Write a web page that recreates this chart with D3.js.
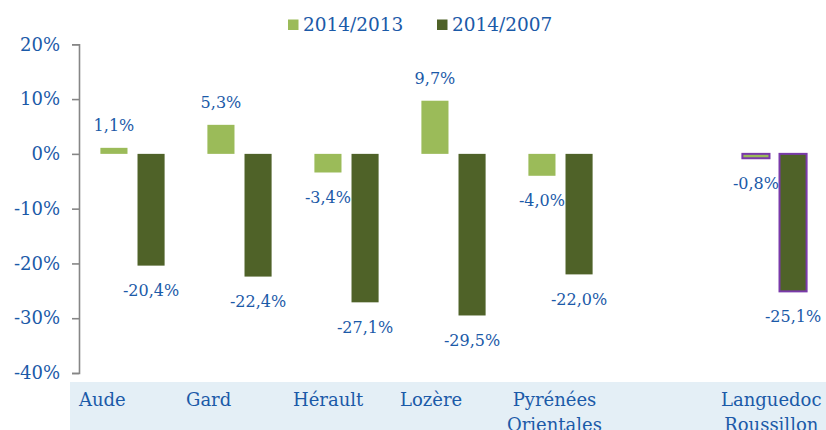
<!DOCTYPE html>
<html>
<head>
<meta charset="utf-8">
<script src="https://cdn.jsdelivr.net/npm/d3@7"></script>
<style>
  body { margin: 0; background: #fff; }
  svg text { font-family: "DejaVu Serif", Georgia, serif; fill: #1b5aa8; }
  .axis path, .axis line { stroke: #868686; stroke-width: 1.6; }
</style>
</head>
<body>
<script>
var width = 826,
    height = 430;

// data
var categories = ["Aude", "Gard", "Hérault", "Lozère", "Pyrénées Orientales", "", "Languedoc Roussillon"];
var series = ["2014/2013", "2014/2007"];
var v2013 = [1.1, 5.3, -3.4, 9.7, -4.0, null, -0.8];
var v2007 = [-20.4, -22.4, -27.1, -29.5, -22.0, null, -25.1];
var yTicks = [-40, -30, -20, -10, 0, 10, 20];
var colors = ["#9bbb59", "#4f6228"];
var totalCategory = "Languedoc Roussillon";

// build rows (the blank category is only a gap)
var rows = categories.map(function(c, i) {
  return { key: "k" + i, name: c, values: [v2013[i], v2007[i]] };
});

var svg = d3.select("body").append("svg")
    .attr("width", width)
    .attr("height", height);

var x = d3.scaleBand()
    .domain(rows.map(d => d.key))
    .range([79, 828]);

var xs = d3.scaleBand()
    .domain(series)
    .range([x.bandwidth() * 0.2, x.bandwidth() * 0.8])
    .paddingInner(0.27);

var y = d3.scaleLinear()
    .domain([-40, 20])
    .range([373, 44.3]);

// category strip
svg.append("rect")
    .attr("x", 70)
    .attr("y", 382)
    .attr("width", width - 70)
    .attr("height", height - 382)
    .attr("fill", "#e4eff6");

// y axis
var yAxis = d3.axisLeft(y)
    .tickValues(yTicks)
    .tickSize(7)
    .tickPadding(12)
    .tickFormat(d => d + "%");

var gy = svg.append("g")
    .attr("class", "axis")
    .attr("transform", "translate(79,0)")
    .call(yAxis);
gy.selectAll("text")
    .style("font-size", "18px")
    .style("fill", "#1b5aa8");

// bars
var bars = [];
rows.forEach(function(r) {
  r.values.forEach(function(v, j) {
    if (v === null) return;
    bars.push({ key: r.key, name: r.name, s: series[j], j: j, v: v });
  });
});

svg.append("g").attr("class", "bars")
  .selectAll("rect").data(bars)
  .enter().append("rect")
    .attr("x", d => x(d.key) + xs(d.s))
    .attr("width", xs.bandwidth())
    .attr("y", d => y(Math.max(0, d.v)))
    .attr("height", d => Math.abs(y(d.v) - y(0)))
    .attr("fill", d => colors[d.j])
    .attr("stroke", d => d.name === totalCategory ? "#7a3aaa" : "none")
    .attr("stroke-width", 2);

// value labels
svg.append("g").attr("class", "labels")
  .selectAll("text").data(bars)
  .enter().append("text")
    .attr("x", d => x(d.key) + xs(d.s) + xs.bandwidth() / 2)
    .attr("y", d => d.v >= 0 ? y(d.v) - 22 : y(d.v) + 25)
    .attr("text-anchor", "middle")
    .attr("dominant-baseline", "central")
    .style("font-size", "16px")
    .text(d => d.v.toFixed(1).replace(".", ",") + "%");

// category labels: block starts at band, lines centred in block
var cat = svg.append("g").attr("class", "cats")
  .selectAll("g").data(rows.filter(r => r.name !== ""))
  .enter().append("g");

cat.each(function(r) {
  var g = d3.select(this);
  var lines = r.name.split(" ");
  var t = g.selectAll("text").data(lines)
    .enter().append("text")
      .attr("y", (d, i) => 406 + i * 25)
      .attr("text-anchor", "middle")
      .style("font-size", "18px")
      .text(d => d);
  var w = 0;
  t.each(function() { w = Math.max(w, this.getComputedTextLength()); });
  t.attr("x", x(r.key) + w / 2);
});

// legend
var legend = svg.append("g").attr("class", "legend")
  .selectAll("g").data(series)
  .enter().append("g")
    .attr("transform", (d, i) => "translate(" + (288 + i * 149) + ",0)");

legend.append("rect")
    .attr("y", 19.5)
    .attr("width", 10.5)
    .attr("height", 10.5)
    .attr("fill", (d, i) => colors[i]);

legend.append("text")
    .attr("x", 15)
    .attr("y", 31)
    .style("font-size", "18.5px")
    .text(d => d);
</script>
</body>
</html>
